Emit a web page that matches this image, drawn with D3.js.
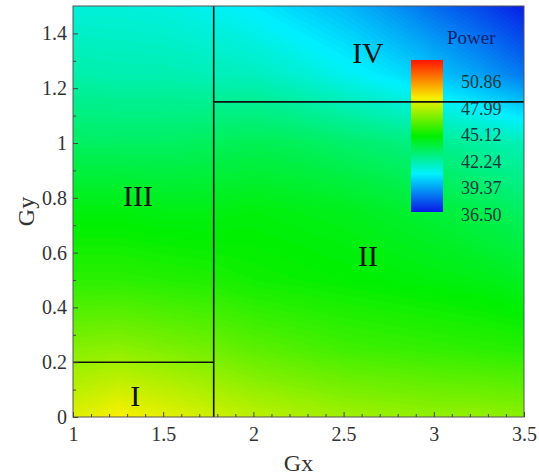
<!DOCTYPE html>
<html>
<head>
<meta charset="utf-8">
<script src="https://cdn.jsdelivr.net/npm/d3@7"></script>
<style>
  html, body { margin: 0; padding: 0; background: #fff; }
  svg { display: block; }
  text { font-family: "Liberation Serif", "DejaVu Serif", serif; }
</style>
</head>
<body>
<svg id="chart" width="539" height="475"></svg>
<script>
// Sample grid of the Power field
const gxValues = [1, 1.25, 1.5, 1.75, 2, 2.25, 2.5, 2.75, 3, 3.25, 3.5];
const gyValues = [0, 0.25, 0.5, 0.75, 1, 1.25, 1.5];
// one row per Gy value (bottom to top), one column per Gx value
const powerRows = [
  [46.9, 47.3, 47.0, 46.7, 46.4, 46.2, 46.0, 45.9, 45.8, 45.8, 45.7],
  [45.6, 45.7, 45.5, 45.3, 45.0, 44.8, 44.6, 44.5, 44.4, 44.3, 44.2],
  [44.3, 44.3, 44.2, 44.1, 43.9, 43.8, 43.7, 43.6, 43.5, 43.4, 43.2],
  [43.5, 43.5, 43.4, 43.4, 43.5, 43.4, 43.3, 43.1, 42.9, 42.6, 42.3],
  [42.3, 42.3, 42.3, 42.4, 42.5, 42.4, 42.2, 42.0, 41.7, 41.4, 41.1],
  [41.3, 41.2, 41.2, 41.1, 41.0, 40.7, 40.3, 39.9, 39.4, 38.8, 38.1],
  [40.6, 40.6, 40.5, 40.3, 40.0, 39.6, 39.2, 38.6, 37.9, 37.3, 36.6]
];

// Region boundaries and names
const splitGx = 1.78;
const splitGyLeft = 0.2;
const splitGyRight = 1.15;
const regionNames = ["I", "II", "III", "IV"];
const regionCenters = [[1.345, 0.08], [2.635, 0.59], [1.36, 0.81], [2.635, 1.33]];

// Axis ticks and colour legend labels
const xTicks = [1, 1.5, 2, 2.5, 3, 3.5];
const yTicks = [0, 0.2, 0.4, 0.6, 0.8, 1, 1.2, 1.4];
const legendLabels = ["50.86", "47.99", "45.12", "42.24", "39.37", "36.50"];
const powerMin = 36.5, powerMax = 50.86;

const svg = d3.select("#chart");
const plot = { left: 73, right: 524, top: 6, bottom: 417 };

const x = d3.scaleLinear().domain([1, 3.5]).range([plot.left, plot.right]);
const y = d3.scaleLinear().domain([0, 1.5]).range([plot.bottom, plot.top]);

// blue - cyan - green - yellow - red
const colorStops = ["#0818e6", "#00f0ff", "#00f000", "#f8f000", "#ff1400"];
const color = d3.scaleLinear()
  .domain(d3.range(colorStops.length).map(i => powerMin + i * (powerMax - powerMin) / (colorStops.length - 1)))
  .range(colorStops)
  .clamp(true);

svg.append("defs").append("clipPath").attr("id", "plotClip")
  .append("rect")
  .attr("x", plot.left).attr("y", plot.top)
  .attr("width", plot.right - plot.left).attr("height", plot.bottom - plot.top);

// Filled contour bands
const nx = gxValues.length, ny = gyValues.length;
const grid = [];
powerRows.forEach(row => row.forEach(v => grid.push(v)));
const step = 0.1;
const thresholds = d3.range(36.3, 51, step);
const bands = d3.contours().size([nx, ny]).thresholds(thresholds)(grid);

const gridToGx = d3.scaleLinear().domain([0.5, nx - 0.5]).range([gxValues[0], gxValues[nx - 1]]);
const gridToGy = d3.scaleLinear().domain([0.5, ny - 0.5]).range([gyValues[0], gyValues[ny - 1]]);
const projection = d3.geoTransform({
  point(px, py) { this.stream.point(x(gridToGx(px)), y(gridToGy(py))); }
});
const path = d3.geoPath(projection);

svg.append("g").attr("clip-path", "url(#plotClip)")
  .selectAll("path").data(bands).join("path")
  .attr("d", path)
  .attr("fill", d => color(d.value + step / 2))
  .attr("stroke", d => color(d.value + step / 2))
  .attr("stroke-width", 0.3);

// Colour legend
const bar = { x: 411, w: 32, top: 60, bottom: 212 };
const grad = svg.select("defs").append("linearGradient")
  .attr("id", "powerGrad").attr("x1", 0).attr("y1", 1).attr("x2", 0).attr("y2", 0);
colorStops.forEach((c, i) => {
  grad.append("stop").attr("offset", i / (colorStops.length - 1)).attr("stop-color", c);
});
svg.append("rect")
  .attr("x", bar.x).attr("y", bar.top)
  .attr("width", bar.w).attr("height", bar.bottom - bar.top)
  .attr("fill", "url(#powerGrad)");

svg.append("text")
  .attr("x", 447).attr("y", 44)
  .attr("font-size", 19).attr("fill", "#14206e")
  .text("Power");

const legendY = d3.scaleLinear().domain([powerMin, powerMax]).range([221, 88]);
svg.append("g").selectAll("text").data(legendLabels).join("text")
  .attr("x", 461).attr("y", d => legendY(+d))
  .attr("font-size", 18).attr("fill", "#163a3c")
  .text(d => d);

// Region boundaries
const lines = svg.append("g").attr("stroke", "#111").attr("stroke-width", 1.6);
lines.append("line")
  .attr("x1", x(splitGx)).attr("x2", x(splitGx))
  .attr("y1", y(0)).attr("y2", y(1.5));
lines.append("line")
  .attr("x1", x(1)).attr("x2", x(splitGx))
  .attr("y1", y(splitGyLeft)).attr("y2", y(splitGyLeft));
lines.append("line")
  .attr("x1", x(splitGx)).attr("x2", x(3.5))
  .attr("y1", y(splitGyRight)).attr("y2", y(splitGyRight));

// Region names
svg.append("g").selectAll("text").data(regionNames).join("text")
  .attr("x", (d, i) => x(regionCenters[i][0]))
  .attr("y", (d, i) => y(regionCenters[i][1]))
  .attr("dy", "0.35em")
  .attr("text-anchor", "middle")
  .attr("font-size", 30).attr("fill", "#111")
  .text(d => d);

// Frame
svg.append("rect")
  .attr("x", plot.left).attr("y", plot.top)
  .attr("width", plot.right - plot.left).attr("height", plot.bottom - plot.top)
  .attr("fill", "none").attr("stroke", "#555").attr("stroke-width", 1);

// Axes with inward ticks
const xAxis = d3.axisBottom(x).tickValues(xTicks).tickSize(-5).tickPadding(10)
  .tickFormat(d3.format("~g"));
const gX = svg.append("g").attr("transform", `translate(0,${plot.bottom})`).call(xAxis);
const yAxis = d3.axisLeft(y).tickValues(yTicks).tickSize(-5).tickPadding(6)
  .tickFormat(d3.format("~g"));
const gY = svg.append("g").attr("transform", `translate(${plot.left},0)`).call(yAxis);

const minorX = d3.range(1.1, 3.5, 0.1).filter(v => Math.abs(v * 2 - Math.round(v * 2)) > 1e-6);
svg.append("g").attr("transform", `translate(0,${plot.bottom})`)
  .call(d3.axisBottom(x).tickValues(minorX).tickSize(-3).tickFormat(""));
const minorY = d3.range(0.1, 1.5, 0.2);
svg.append("g").attr("transform", `translate(${plot.left},0)`)
  .call(d3.axisLeft(y).tickValues(minorY).tickSize(-3).tickFormat(""));

[gX, gY].forEach(g => {
  g.selectAll(".tick text")
    .attr("font-size", 20).attr("fill", "#333");
});
svg.selectAll(".domain").remove();
svg.selectAll(".tick line").attr("stroke", "#444");

// Axis titles
svg.append("text")
  .attr("x", (plot.left + plot.right) / 2).attr("y", 471)
  .attr("text-anchor", "middle").attr("font-size", 24).attr("fill", "#333")
  .text("Gx");
svg.append("text")
  .attr("transform", `translate(34,${(plot.top + plot.bottom) / 2}) rotate(-90)`)
  .attr("text-anchor", "middle").attr("font-size", 24).attr("fill", "#333")
  .text("Gy");
</script>
</body>
</html>
